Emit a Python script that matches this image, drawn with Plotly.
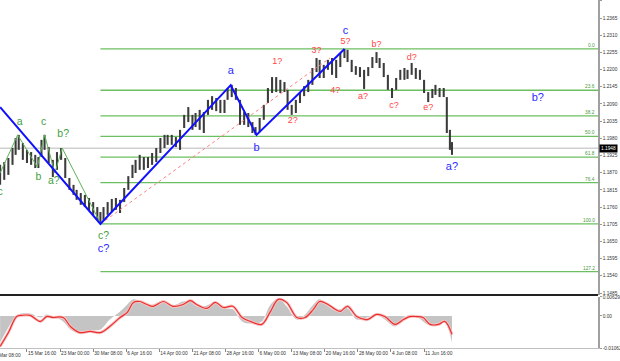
import plotly.graph_objects as go

# ---------------- data ----------------
# H4 bar index (0 = 8 Mar 08:00), sampled price ranges
bars = [6, 10, 14, 18, 21, 24, 28, 32, 36, 40, 43, 46, 49, 53, 57, 61, 65, 69, 73, 77,
        80, 84, 88, 92, 96, 100, 103, 106, 110, 114, 118, 122, 126, 130, 134, 137, 141, 145, 149, 153,
        157, 161, 165, 168, 172, 176, 180, 184, 188, 192, 195, 199, 203, 207, 211, 215, 219, 223, 226, 230,
        234, 238, 242, 246, 250, 253, 257, 261, 265, 269, 273, 277, 281, 284, 288, 292, 296, 300, 304, 308,
        312, 315, 319, 323, 327, 331, 335, 339, 342, 346, 350, 354, 358, 362, 366, 370, 373, 377, 381, 385,
        389, 393, 397, 400, 404, 408, 412, 416, 420, 424, 427, 431, 435, 438, 441, 443]
highs = [1.1895, 1.1904, 1.1917, 1.1949, 1.1981, 1.1991, 1.1965, 1.1943, 1.1936, 1.1927, 1.1920, 1.1975, 1.1991, 1.1952, 1.1911, 1.1936, 1.1949, 1.1917, 1.1853, 1.1831,
         1.1815, 1.1805, 1.1799, 1.1789, 1.1776, 1.1760, 1.1744, 1.1760, 1.1776, 1.1786, 1.1789, 1.1783, 1.1821, 1.1859, 1.1895, 1.1911, 1.1927, 1.1920, 1.1920, 1.1933,
         1.1949, 1.1981, 1.1991, 1.1991, 1.1991, 1.1984, 1.2007, 1.2055, 1.2080, 1.2055, 1.2061, 1.2071, 1.2064, 1.2103, 1.2115, 1.2109, 1.2103, 1.2103, 1.2141, 1.2151,
         1.2141, 1.2103, 1.2064, 1.2061, 1.2032, 1.2016, 1.2045, 1.2087, 1.2141, 1.2176, 1.2176, 1.2167, 1.2160, 1.2135, 1.2087, 1.2103, 1.2128, 1.2147, 1.2167, 1.2205,
         1.2237, 1.2231, 1.2215, 1.2231, 1.2237, 1.2231, 1.2253, 1.2266, 1.2263, 1.2231, 1.2211, 1.2208, 1.2199, 1.2208, 1.2240, 1.2256, 1.2237, 1.2221, 1.2183, 1.2141,
         1.2173, 1.2199, 1.2205, 1.2199, 1.2221, 1.2205, 1.2199, 1.2167, 1.2128, 1.2138, 1.2151, 1.2141, 1.2141, 1.2112, 1.2007, 1.1968]
lows = [1.1831, 1.1847, 1.1863, 1.1895, 1.1927, 1.1943, 1.1911, 1.1901, 1.1895, 1.1885, 1.1885, 1.1920, 1.1943, 1.1901, 1.1856, 1.1879, 1.1911, 1.1853, 1.1815, 1.1799,
        1.1783, 1.1767, 1.1760, 1.1747, 1.1735, 1.1719, 1.1706, 1.1719, 1.1735, 1.1744, 1.1751, 1.1741, 1.1776, 1.1815, 1.1853, 1.1869, 1.1879, 1.1879, 1.1885, 1.1895,
        1.1904, 1.1933, 1.1949, 1.1959, 1.1959, 1.1952, 1.1943, 1.2013, 1.2032, 1.2007, 1.2016, 1.2007, 1.1997, 1.2055, 1.2071, 1.2067, 1.2061, 1.2061, 1.2103, 1.2112,
        1.2103, 1.2023, 1.2023, 1.2016, 1.1997, 1.1991, 1.2000, 1.2039, 1.2093, 1.2125, 1.2128, 1.2125, 1.2128, 1.2071, 1.2055, 1.2061, 1.2093, 1.2115, 1.2128, 1.2151,
        1.2192, 1.2173, 1.2173, 1.2199, 1.2183, 1.2173, 1.2208, 1.2237, 1.2224, 1.2192, 1.2183, 1.2176, 1.2138, 1.2179, 1.2205, 1.2221, 1.2205, 1.2176, 1.2135, 1.2109,
        1.2135, 1.2167, 1.2167, 1.2170, 1.2183, 1.2170, 1.2167, 1.2125, 1.2096, 1.2109, 1.2119, 1.2112, 1.2112, 1.1997, 1.1943, 1.1927]

last_price = 1.1948

# Fibonacci grid
fib_high = 1.2266
fib_low = 1.1706
fib_start_bar = 103
fib_ratios = [0.0, 23.6, 38.2, 50.0, 61.8, 76.4, 100.0, 127.2]
fib_labels = ["0.0", "23.6", "38.2", "50.0", "61.8", "76.4", "100.0", "127.2"]

# wave structures
blue_x = [6, 103, 229, 254, 339]
blue_y = [1.2080, 1.1706, 1.2150, 1.1991, 1.2266]
green_x = [6, 23, 42, 49, 59, 66, 103]
green_y = [1.1869, 1.1991, 1.1888, 1.1991, 1.1869, 1.1949, 1.1709]
dotted_x = [103, 325]
dotted_y = [1.1706, 1.2237]

blue_lbl_x = [106, 229, 254, 340, 443, 526]
blue_lbl_y = [1.1626, 1.2195, 1.1949, 1.2323, 1.1888, 1.2109]
blue_lbl = ["c?", "a", "b", "c", "a?", "b?"]
green_lbl_x = [6, 25, 43, 48, 58, 67, 106]
green_lbl_y = [1.1808, 1.2032, 1.1856, 1.2032, 1.1843, 1.1991, 1.1667]
green_lbl = ["c", "a", "b", "c", "a?", "b?", "c?"]
red_lbl_x = [274, 289, 312, 330, 340, 357, 370, 387, 404, 420]
red_lbl_y = [1.2224, 1.2035, 1.2259, 1.2131, 1.2288, 1.2112, 1.2279, 1.2083, 1.2237, 1.2077]
red_lbl = ["1?", "2?", "3?", "4?", "5?", "a?", "b?", "c?", "d?", "e?"]

# oscillator (MACD-like)
ind_bars = [6, 14, 22, 27, 35, 45, 51, 57, 67, 74, 83, 93, 103, 112, 122, 129, 135, 141, 148, 154,
            164, 173, 183, 190, 196, 206, 214, 222, 231, 240, 248, 259, 267, 275, 283, 293, 301, 309, 315, 323,
            330, 335, 342, 351, 361, 370, 378, 388, 396, 402, 409, 415, 422, 430, 436, 443]
hist = [-0.0088, -0.0038, 0.0002, 0.0008, 0.0008, -0.0005, 0.0005, -0.0002, -0.0018, -0.0045, -0.0058, -0.0048, -0.0045, -0.0012, 0.0015, 0.0038, 0.0055, 0.0048, 0.0035, 0.0038,
        0.0051, 0.0035, 0.0048, 0.0048, 0.0032, 0.0035, 0.0045, 0.0025, 0.0022, -0.0018, -0.0025, -0.0018, 0.0035, 0.0058, 0.0032, -0.0012, 0.0005, 0.0038, 0.0055, 0.0032,
        0.0018, 0.0022, 0.0025, -0.0012, -0.0005, 0.0005, -0.0012, -0.0035, -0.0005, 0.0002, -0.0002, -0.0018, -0.0032, -0.0028, -0.0022, -0.0088]
signal = [-0.0101, -0.0055, -0.0002, 0.0002, 0.0002, -0.0018, -0.0002, -0.0005, -0.0005, -0.0035, -0.0055, -0.0051, -0.0055, -0.0035, -0.0005, 0.0012, 0.0045, 0.0048, 0.0038, 0.0032,
          0.0048, 0.0032, 0.0038, 0.0051, 0.0038, 0.0025, 0.0045, 0.0028, 0.0032, -0.0005, -0.0018, -0.0028, 0.0012, 0.0055, 0.0045, -0.0005, -0.0005, 0.0022, 0.0048, 0.0038,
          0.0022, 0.0015, 0.0032, -0.0002, -0.0012, 0.0005, -0.0002, -0.0028, -0.0012, -0.0002, -0.0002, -0.0005, -0.0028, -0.0028, -0.0018, -0.0061]

# axes
x_range = [5.9, 584.2]
price_range = [1.14786, 1.24226]
price_ticks = [1.2420, 1.2365, 1.2310, 1.2255, 1.2200, 1.2145, 1.2090, 1.2035, 1.1980,
               1.1925, 1.1870, 1.1815, 1.1760, 1.1705, 1.1650, 1.1595, 1.1540, 1.1485]
ind_range = [-0.01062, 0.00629]
ind_ticks = [0.00629, 0.0, -0.01062]
ind_tick_text = ["0.00629", "0.00", "-0.01062"]
date_bars = [0, 32, 64, 96, 128, 160, 192, 224, 256, 288, 320, 352, 384, 416]
date_labels = ["8 Mar 08:00", "15 Mar 16:00", "23 Mar 00:00", "30 Mar 08:00", "6 Apr 16:00",
               "14 Apr 00:00", "21 Apr 08:00", "28 Apr 16:00", "6 May 00:00", "13 May 08:00",
               "20 May 16:00", "28 May 00:00", "4 Jun 08:00", "11 Jun 16:00"]

# ---------------- figure ----------------
FONT = "Liberation Sans, Arial, sans-serif"
GREEN_FIB = "#6cbf60"
SMALL = 4.8

fig = go.Figure()

# current price line
fig.add_shape(type="line", xref="paper", x0=0, x1=1, yref="y", y0=last_price, y1=last_price,
              line=dict(color="#d0d0d0", width=1.5), layer="below")

# fib levels
for r, lab in zip(fib_ratios, fib_labels):
    lvl = fib_high - r / 100.0 * (fib_high - fib_low)
    fig.add_shape(type="line", xref="x", x0=fib_start_bar, x1=x_range[1], yref="y", y0=lvl, y1=lvl,
                  line=dict(color=GREEN_FIB, width=1.3), layer="below")
    fig.add_annotation(x=x_range[1], y=lvl, xref="x", yref="y", text=lab, showarrow=False,
                       xanchor="right", yanchor="bottom", xshift=-1, yshift=-1,
                       font=dict(family=FONT, size=SMALL, color="#4a9a40"))

# price bars
fig.add_trace(go.Bar(x=bars, y=[h - l for h, l in zip(highs, lows)], base=lows, width=2.0,
                     marker=dict(color="#3c3c3c", line=dict(width=0)), xaxis="x", yaxis="y",
                     hoverinfo="skip"))

# wave lines
fig.add_trace(go.Scatter(x=green_x, y=green_y, mode="lines", line=dict(color="#5fb05a", width=1),
                         xaxis="x", yaxis="y"))
fig.add_trace(go.Scatter(x=dotted_x, y=dotted_y, mode="lines",
                         line=dict(color="#ff8080", width=1, dash="dot"), xaxis="x", yaxis="y"))
fig.add_trace(go.Scatter(x=blue_x, y=blue_y, mode="lines", line=dict(color="#1010ff", width=2),
                         xaxis="x", yaxis="y"))

# wave labels
fig.add_trace(go.Scatter(x=blue_lbl_x, y=blue_lbl_y, text=blue_lbl, mode="text",
                         textfont=dict(family=FONT, size=11, color="#2a2aff"), xaxis="x", yaxis="y"))
fig.add_trace(go.Scatter(x=green_lbl_x, y=green_lbl_y, text=green_lbl, mode="text",
                         textfont=dict(family=FONT, size=10.5, color="#3f9f3f"), xaxis="x", yaxis="y"))
fig.add_trace(go.Scatter(x=red_lbl_x, y=red_lbl_y, text=red_lbl, mode="text",
                         textfont=dict(family=FONT, size=9, color="#ff4545"), xaxis="x", yaxis="y"))

# oscillator
fig.add_trace(go.Scatter(x=ind_bars, y=hist, mode="lines", fill="tozeroy", fillcolor="#c4c4c4",
                         line=dict(width=0, shape="spline", color="#c4c4c4"), xaxis="x2", yaxis="y2"))
fig.add_trace(go.Scatter(x=ind_bars, y=signal, mode="lines",
                         line=dict(width=3, shape="spline", color="#f7c4c4"), xaxis="x2", yaxis="y2"))
fig.add_trace(go.Scatter(x=ind_bars, y=signal, mode="lines",
                         line=dict(width=1.2, shape="spline", color="#e83030"), xaxis="x2", yaxis="y2"))

# panel separator
MAIN_BOTTOM = 0.1523
IND_TOP = 0.1466
fig.add_shape(type="line", xref="paper", x0=0, x1=1, yref="paper", y0=MAIN_BOTTOM, y1=MAIN_BOTTOM,
              line=dict(color="#222222", width=2))

# last price box
fig.add_annotation(x=1, xref="paper", y=last_price, yref="y", text="1.1948", showarrow=False,
                   xanchor="left", xshift=1, bgcolor="#000000", borderpad=1,
                   font=dict(family=FONT, size=SMALL, color="#ffffff"))

# first (cut) date label
fig.add_annotation(x=(date_bars[0] - x_range[0]) / (x_range[1] - x_range[0]), xref="paper",
                   y=0, yref="paper", yanchor="top", xanchor="left", yshift=-3, xshift=-1,
                   text=date_labels[0], showarrow=False, font=dict(family=FONT, size=SMALL, color="#333333"))

axis_font = dict(family=FONT, size=SMALL, color="#333333")
fig.update_layout(
    width=620, height=361,
    margin=dict(l=0, r=22, t=0, b=13, autoexpand=False),
    paper_bgcolor="white", plot_bgcolor="white",
    showlegend=False,
    xaxis=dict(domain=[0, 1], range=x_range, anchor="y", showticklabels=False, showgrid=False,
               zeroline=False, matches="x2", automargin=False),
    yaxis=dict(domain=[MAIN_BOTTOM, 1], range=price_range, side="right", anchor="x",
               tickvals=price_ticks, ticktext=["%.4f" % t for t in price_ticks],
               ticks="outside", ticklen=2, tickcolor="#999999", showline=True, linecolor="#a0a0a0",
               linewidth=1.5, showgrid=False, zeroline=False, tickfont=axis_font, automargin=False),
    xaxis2=dict(domain=[0, 1], range=x_range, anchor="y2", tickvals=date_bars[1:], ticktext=date_labels[1:],
                ticklabelposition="outside right", tickangle=0, ticks="outside", ticklen=3,
                tickcolor="#888888", showline=True, linecolor="#c0c0c0", linewidth=1, showgrid=False,
                zeroline=False, tickfont=axis_font, automargin=False),
    yaxis2=dict(domain=[0, IND_TOP], range=ind_range, side="right", anchor="x2",
                tickvals=ind_ticks, ticktext=ind_tick_text, ticks="outside", ticklen=2,
                tickcolor="#999999", showline=True, linecolor="#a0a0a0", linewidth=1.5,
                showgrid=False, zeroline=False, tickfont=axis_font, automargin=False),
)

fig.write_html("out.html", config={"displayModeBar": False},
               post_script="document.body.style.margin='0';document.body.style.overflow='hidden';")
